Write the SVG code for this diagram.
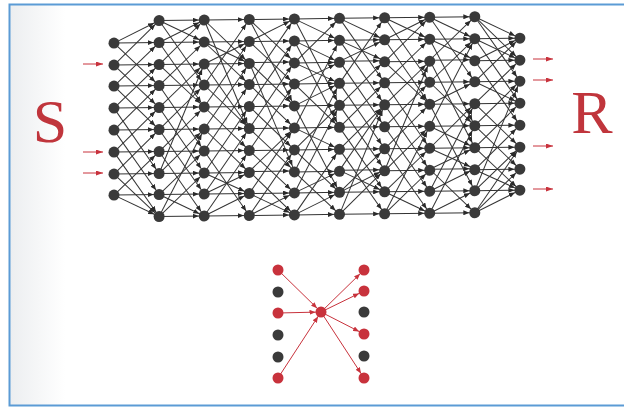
<svg xmlns="http://www.w3.org/2000/svg" xmlns:xlink="http://www.w3.org/1999/xlink" width="624" height="408" viewBox="0 0 624 408">
<style>
.e{fill:none;stroke:#333333;stroke-width:1;marker-end:url(#ah)}
.re{fill:none;stroke:#c8323c;stroke-width:1;marker-end:url(#rah)}
.n{fill:#3a3a3a}
.rn{fill:#c8323c}
.lbl{font-family:"Liberation Serif","Times New Roman",serif;font-size:62px;fill:#c0353c;text-anchor:middle}
</style>
<defs>
<linearGradient id="shade" x1="0" y1="0" x2="1" y2="0">
<stop offset="0" stop-color="#eceef0"/>
<stop offset="1" stop-color="#ffffff"/>
</linearGradient>
<marker id="ah" viewBox="0 0 11.5 5" markerWidth="11.5" markerHeight="5" refX="11.5" refY="2.5" orient="auto" markerUnits="userSpaceOnUse"><path d="M0,0 L6,2.5 L0,5 z" fill="#2a2a2a"/></marker>
<marker id="rah" viewBox="0 0 11.5 5" markerWidth="11.5" markerHeight="5" refX="11.5" refY="2.5" orient="auto" markerUnits="userSpaceOnUse"><path d="M0,0 L6,2.5 L0,5 z" fill="#c8323c"/></marker>
<marker id="rin" viewBox="0 0 7 5" markerWidth="7" markerHeight="5" refX="7" refY="2.5" orient="auto" markerUnits="userSpaceOnUse"><path d="M0,0 L7,2.5 L0,5 z" fill="#c8323c"/></marker>
<g id="pA">
<path class="e" d="M0 43L45.1 43"/><path class="e" d="M0 43L45.1 21"/><path class="e" d="M0 43L45.1 86"/>
<path class="e" d="M0 65L45.1 65"/><path class="e" d="M0 65L45.1 21"/><path class="e" d="M0 65L45.1 108"/>
<path class="e" d="M0 86L45.1 86"/><path class="e" d="M0 86L45.1 43"/><path class="e" d="M0 86L45.1 130"/>
<path class="e" d="M0 108L45.1 108"/><path class="e" d="M0 108L45.1 65"/><path class="e" d="M0 108L45.1 174"/>
<path class="e" d="M0 130L45.1 130"/><path class="e" d="M0 130L45.1 86"/><path class="e" d="M0 130L45.1 195"/>
<path class="e" d="M0 152L45.1 152"/><path class="e" d="M0 152L45.1 217"/><path class="e" d="M0 152L45.1 108"/>
<path class="e" d="M0 174L45.1 174"/><path class="e" d="M0 174L45.1 217"/><path class="e" d="M0 174L45.1 130"/>
<path class="e" d="M0 195L45.1 195"/><path class="e" d="M0 195L45.1 152"/><path class="e" d="M0 195L45.1 217"/>
</g>
<g id="pB">
<path class="e" d="M0 21L45.1 21"/><path class="e" d="M0 21L45.1 43"/><path class="e" d="M0 21L45.1 86"/>
<path class="e" d="M0 43L45.1 43"/><path class="e" d="M0 43L45.1 21"/><path class="e" d="M0 43L45.1 108"/>
<path class="e" d="M0 65L45.1 65"/><path class="e" d="M0 65L45.1 108"/><path class="e" d="M0 65L45.1 21"/>
<path class="e" d="M0 86L45.1 86"/><path class="e" d="M0 86L45.1 43"/><path class="e" d="M0 86L45.1 152"/>
<path class="e" d="M0 108L45.1 108"/><path class="e" d="M0 108L45.1 65"/><path class="e" d="M0 108L45.1 174"/>
<path class="e" d="M0 130L45.1 130"/><path class="e" d="M0 130L45.1 195"/><path class="e" d="M0 130L45.1 86"/>
<path class="e" d="M0 152L45.1 152"/><path class="e" d="M0 152L45.1 108"/><path class="e" d="M0 152L45.1 217"/>
<path class="e" d="M0 174L45.1 174"/><path class="e" d="M0 174L45.1 130"/><path class="e" d="M0 174L45.1 65"/>
<path class="e" d="M0 195L45.1 195"/><path class="e" d="M0 195L45.1 152"/><path class="e" d="M0 195L45.1 217"/>
<path class="e" d="M0 217L45.1 217"/><path class="e" d="M0 217L45.1 174"/><path class="e" d="M0 217L45.1 130"/>
</g>
<g id="pC">
<path class="e" d="M0 21L45.1 21"/><path class="e" d="M0 21L45.1 65"/><path class="e" d="M0 21L45.1 130"/>
<path class="e" d="M0 43L45.1 43"/><path class="e" d="M0 43L45.1 86"/><path class="e" d="M0 43L45.1 65"/>
<path class="e" d="M0 65L45.1 65"/><path class="e" d="M0 65L45.1 43"/><path class="e" d="M0 65L45.1 130"/>
<path class="e" d="M0 86L45.1 86"/><path class="e" d="M0 86L45.1 21"/><path class="e" d="M0 86L45.1 130"/>
<path class="e" d="M0 108L45.1 108"/><path class="e" d="M0 108L45.1 152"/><path class="e" d="M0 108L45.1 43"/>
<path class="e" d="M0 130L45.1 130"/><path class="e" d="M0 130L45.1 65"/><path class="e" d="M0 130L45.1 174"/>
<path class="e" d="M0 152L45.1 152"/><path class="e" d="M0 152L45.1 217"/><path class="e" d="M0 152L45.1 86"/>
<path class="e" d="M0 174L45.1 174"/><path class="e" d="M0 174L45.1 108"/><path class="e" d="M0 174L45.1 195"/>
<path class="e" d="M0 195L45.1 195"/><path class="e" d="M0 195L45.1 130"/><path class="e" d="M0 195L45.1 174"/>
<path class="e" d="M0 217L45.1 217"/><path class="e" d="M0 217L45.1 152"/><path class="e" d="M0 217L45.1 195"/>
</g>
<g id="pD">
<path class="e" d="M0 21L45.1 21"/><path class="e" d="M0 21L45.1 43"/><path class="e" d="M0 21L45.1 108"/>
<path class="e" d="M0 43L45.1 43"/><path class="e" d="M0 43L45.1 65"/><path class="e" d="M0 43L45.1 130"/>
<path class="e" d="M0 65L45.1 65"/><path class="e" d="M0 65L45.1 21"/><path class="e" d="M0 65L45.1 86"/>
<path class="e" d="M0 86L45.1 86"/><path class="e" d="M0 86L45.1 130"/><path class="e" d="M0 86L45.1 65"/>
<path class="e" d="M0 108L45.1 108"/><path class="e" d="M0 108L45.1 86"/><path class="e" d="M0 108L45.1 195"/>
<path class="e" d="M0 130L45.1 130"/><path class="e" d="M0 130L45.1 152"/><path class="e" d="M0 130L45.1 43"/>
<path class="e" d="M0 152L45.1 152"/><path class="e" d="M0 152L45.1 195"/><path class="e" d="M0 152L45.1 108"/>
<path class="e" d="M0 174L45.1 174"/><path class="e" d="M0 174L45.1 217"/><path class="e" d="M0 174L45.1 86"/>
<path class="e" d="M0 195L45.1 195"/><path class="e" d="M0 195L45.1 174"/><path class="e" d="M0 195L45.1 108"/>
<path class="e" d="M0 217L45.1 217"/><path class="e" d="M0 217L45.1 195"/><path class="e" d="M0 217L45.1 152"/>
</g>
<g id="pE">
<path class="e" d="M0 21L45.1 43"/><path class="e" d="M0 21L45.1 65"/><path class="e" d="M0 21L45.1 86"/>
<path class="e" d="M0 43L45.1 43"/><path class="e" d="M0 43L45.1 65"/><path class="e" d="M0 43L45.1 108"/>
<path class="e" d="M0 65L45.1 65"/><path class="e" d="M0 65L45.1 43"/><path class="e" d="M0 65L45.1 130"/>
<path class="e" d="M0 86L45.1 86"/><path class="e" d="M0 86L45.1 108"/><path class="e" d="M0 86L45.1 43"/>
<path class="e" d="M0 108L45.1 108"/><path class="e" d="M0 108L45.1 152"/><path class="e" d="M0 108L45.1 65"/>
<path class="e" d="M0 130L45.1 130"/><path class="e" d="M0 130L45.1 86"/><path class="e" d="M0 130L45.1 174"/>
<path class="e" d="M0 152L45.1 152"/><path class="e" d="M0 152L45.1 195"/><path class="e" d="M0 152L45.1 108"/>
<path class="e" d="M0 174L45.1 174"/><path class="e" d="M0 174L45.1 130"/><path class="e" d="M0 174L45.1 195"/>
<path class="e" d="M0 195L45.1 195"/><path class="e" d="M0 195L45.1 152"/><path class="e" d="M0 195L45.1 86"/>
<path class="e" d="M0 217L45.1 195"/><path class="e" d="M0 217L45.1 174"/><path class="e" d="M0 217L45.1 152"/>
</g>
<circle id="dot" r="5.5"/>
</defs>
<rect x="0" y="0" width="624" height="408" fill="#ffffff"/>
<rect x="10" y="5" width="55" height="400" fill="url(#shade)"/>
<rect x="9.5" y="4.5" width="620" height="401" fill="none" stroke="#5b9bd5" stroke-width="2"/>
<text class="lbl" x="50" y="142">S</text>
<text class="lbl" x="592" y="133">R</text>
<g transform="translate(0,1.5) skewY(-0.7)">
<g id="connectors">
<use xlink:href="#pA" transform="translate(114,0)"/>
<use xlink:href="#pB" transform="translate(159.1,0)"/>
<use xlink:href="#pC" transform="translate(204.2,0)"/>
<use xlink:href="#pB" transform="translate(249.3,238) scale(1,-1)"/>
<use xlink:href="#pD" transform="translate(294.4,0)"/>
<use xlink:href="#pC" transform="translate(339.5,238) scale(1,-1)"/>
<use xlink:href="#pB" transform="translate(384.6,0)"/>
<use xlink:href="#pD" transform="translate(429.7,238) scale(1,-1)"/>
<use xlink:href="#pE" transform="translate(474.8,0)"/>
</g>
<g id="nodes" class="n">
<g id="c0"><use xlink:href="#dot" x="114" y="43"/><use xlink:href="#dot" x="114" y="65"/><use xlink:href="#dot" x="114" y="86"/><use xlink:href="#dot" x="114" y="108"/><use xlink:href="#dot" x="114" y="130"/><use xlink:href="#dot" x="114" y="152"/><use xlink:href="#dot" x="114" y="174"/><use xlink:href="#dot" x="114" y="195"/></g>
<g id="c1"><use xlink:href="#dot" x="159.1" y="21"/><use xlink:href="#dot" x="159.1" y="43"/><use xlink:href="#dot" x="159.1" y="65"/><use xlink:href="#dot" x="159.1" y="86"/><use xlink:href="#dot" x="159.1" y="108"/><use xlink:href="#dot" x="159.1" y="130"/><use xlink:href="#dot" x="159.1" y="152"/><use xlink:href="#dot" x="159.1" y="174"/><use xlink:href="#dot" x="159.1" y="195"/><use xlink:href="#dot" x="159.1" y="217"/></g>
<g id="c2"><use xlink:href="#dot" x="204.2" y="21"/><use xlink:href="#dot" x="204.2" y="43"/><use xlink:href="#dot" x="204.2" y="65"/><use xlink:href="#dot" x="204.2" y="86"/><use xlink:href="#dot" x="204.2" y="108"/><use xlink:href="#dot" x="204.2" y="130"/><use xlink:href="#dot" x="204.2" y="152"/><use xlink:href="#dot" x="204.2" y="174"/><use xlink:href="#dot" x="204.2" y="195"/><use xlink:href="#dot" x="204.2" y="217"/></g>
<g id="c3"><use xlink:href="#dot" x="249.3" y="21"/><use xlink:href="#dot" x="249.3" y="43"/><use xlink:href="#dot" x="249.3" y="65"/><use xlink:href="#dot" x="249.3" y="86"/><use xlink:href="#dot" x="249.3" y="108"/><use xlink:href="#dot" x="249.3" y="130"/><use xlink:href="#dot" x="249.3" y="152"/><use xlink:href="#dot" x="249.3" y="174"/><use xlink:href="#dot" x="249.3" y="195"/><use xlink:href="#dot" x="249.3" y="217"/></g>
<g id="c4"><use xlink:href="#dot" x="294.4" y="21"/><use xlink:href="#dot" x="294.4" y="43"/><use xlink:href="#dot" x="294.4" y="65"/><use xlink:href="#dot" x="294.4" y="86"/><use xlink:href="#dot" x="294.4" y="108"/><use xlink:href="#dot" x="294.4" y="130"/><use xlink:href="#dot" x="294.4" y="152"/><use xlink:href="#dot" x="294.4" y="174"/><use xlink:href="#dot" x="294.4" y="195"/><use xlink:href="#dot" x="294.4" y="217"/></g>
<g id="c5"><use xlink:href="#dot" x="339.5" y="21"/><use xlink:href="#dot" x="339.5" y="43"/><use xlink:href="#dot" x="339.5" y="65"/><use xlink:href="#dot" x="339.5" y="86"/><use xlink:href="#dot" x="339.5" y="108"/><use xlink:href="#dot" x="339.5" y="130"/><use xlink:href="#dot" x="339.5" y="152"/><use xlink:href="#dot" x="339.5" y="174"/><use xlink:href="#dot" x="339.5" y="195"/><use xlink:href="#dot" x="339.5" y="217"/></g>
<g id="c6"><use xlink:href="#dot" x="384.6" y="21"/><use xlink:href="#dot" x="384.6" y="43"/><use xlink:href="#dot" x="384.6" y="65"/><use xlink:href="#dot" x="384.6" y="86"/><use xlink:href="#dot" x="384.6" y="108"/><use xlink:href="#dot" x="384.6" y="130"/><use xlink:href="#dot" x="384.6" y="152"/><use xlink:href="#dot" x="384.6" y="174"/><use xlink:href="#dot" x="384.6" y="195"/><use xlink:href="#dot" x="384.6" y="217"/></g>
<g id="c7"><use xlink:href="#dot" x="429.7" y="21"/><use xlink:href="#dot" x="429.7" y="43"/><use xlink:href="#dot" x="429.7" y="65"/><use xlink:href="#dot" x="429.7" y="86"/><use xlink:href="#dot" x="429.7" y="108"/><use xlink:href="#dot" x="429.7" y="130"/><use xlink:href="#dot" x="429.7" y="152"/><use xlink:href="#dot" x="429.7" y="174"/><use xlink:href="#dot" x="429.7" y="195"/><use xlink:href="#dot" x="429.7" y="217"/></g>
<g id="c8"><use xlink:href="#dot" x="474.8" y="21"/><use xlink:href="#dot" x="474.8" y="43"/><use xlink:href="#dot" x="474.8" y="65"/><use xlink:href="#dot" x="474.8" y="86"/><use xlink:href="#dot" x="474.8" y="108"/><use xlink:href="#dot" x="474.8" y="130"/><use xlink:href="#dot" x="474.8" y="152"/><use xlink:href="#dot" x="474.8" y="174"/><use xlink:href="#dot" x="474.8" y="195"/><use xlink:href="#dot" x="474.8" y="217"/></g>
<g id="c9"><use xlink:href="#dot" x="519.9" y="43"/><use xlink:href="#dot" x="519.9" y="65"/><use xlink:href="#dot" x="519.9" y="86"/><use xlink:href="#dot" x="519.9" y="108"/><use xlink:href="#dot" x="519.9" y="130"/><use xlink:href="#dot" x="519.9" y="152"/><use xlink:href="#dot" x="519.9" y="174"/><use xlink:href="#dot" x="519.9" y="195"/></g>
</g>
</g>
<g id="io-arrows" fill="none" stroke="#c8323c" stroke-width="1" marker-end="url(#rin)">
<path d="M83 64H103"/><path d="M83 152H103"/><path d="M83 173H103"/>
<path d="M533 59H553"/><path d="M533 80H553"/><path d="M533 146H553"/><path d="M533 189H553"/>
</g>
<g id="mini-connectors">
<path class="re" d="M278 270L321 312"/>
<path class="re" d="M278 313L321 312"/>
<path class="re" d="M278 378L321 312"/>
<path class="re" d="M321 312L364 270"/>
<path class="re" d="M321 312L364 291"/>
<path class="re" d="M321 312L364 334"/>
<path class="re" d="M321 312L364 378"/>
</g>
<g id="mini-nodes">
<g id="L1"><circle class="rn" cx="278" cy="270" r="5.5"/></g>
<g id="L2"><circle class="n" cx="278" cy="292" r="5.5"/></g>
<g id="L3"><circle class="rn" cx="278" cy="313" r="5.5"/></g>
<g id="L4"><circle class="n" cx="278" cy="335" r="5.5"/></g>
<g id="L5"><circle class="n" cx="278" cy="357" r="5.5"/></g>
<g id="L6"><circle class="rn" cx="278" cy="378" r="5.5"/></g>
<g id="M"><circle class="rn" cx="321" cy="312" r="5.5"/></g>
<g id="R1"><circle class="rn" cx="364" cy="270" r="5.5"/></g>
<g id="R2"><circle class="rn" cx="364" cy="291" r="5.5"/></g>
<g id="R3"><circle class="n" cx="364" cy="312" r="5.5"/></g>
<g id="R4"><circle class="rn" cx="364" cy="334" r="5.5"/></g>
<g id="R5"><circle class="n" cx="364" cy="356" r="5.5"/></g>
<g id="R6"><circle class="rn" cx="364" cy="378" r="5.5"/></g>
</g>
</svg>
